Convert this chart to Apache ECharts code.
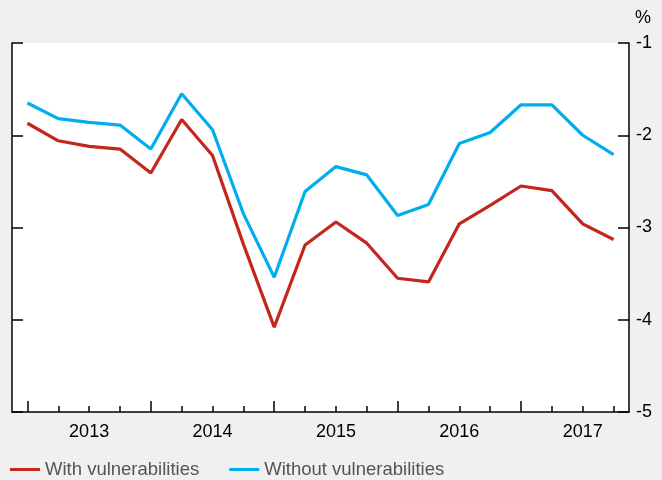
<!DOCTYPE html>
<html>
<head>
<meta charset="utf-8">
<script src="https://cdn.jsdelivr.net/npm/echarts@6/dist/echarts.min.js"></script>
<style>
  html, body { margin: 0; padding: 0; background: #f0f0f0; }
  #chart { width: 662px; height: 480px; }
</style>
</head>
<body>
<div id="chart"></div>
<script>
// quarterly points, 2013 Q1 .. 2017 Q4
const quarters = [
  '2013Q1', '2013Q2', '2013Q3', '2013Q4',
  '2014Q1', '2014Q2', '2014Q3', '2014Q4',
  '2015Q1', '2015Q2', '2015Q3', '2015Q4',
  '2016Q1', '2016Q2', '2016Q3', '2016Q4',
  '2017Q1', '2017Q2', '2017Q3', '2017Q4'
]
const withVuln = [
  -1.87, -2.06, -2.12, -2.15, -2.41, -1.83, -2.22, -3.18, -4.08, -3.19,
  -2.94, -3.17, -3.55, -3.59, -2.96, -2.76, -2.55, -2.60, -2.96, -3.13
]
const withoutVuln = [
  -1.65, -1.82, -1.86, -1.89, -2.15, -1.55, -1.94, -2.85, -3.54, -2.61,
  -2.34, -2.43, -2.87, -2.75, -2.09, -1.97, -1.67, -1.67, -2.00, -2.21
]
const yTicks = { min: -5, max: -1, step: 1 }

const font = "'Liberation Sans', Arial, Helvetica, sans-serif"
const red = '#c4261d'
const blue = '#00aeef'

const chart = echarts.init(document.getElementById('chart'))

const yAxisBase = {
  type: 'value',
  min: yTicks.min,
  max: yTicks.max,
  interval: yTicks.step,
  splitLine: { show: false },
  axisLine: { show: true, lineStyle: { color: '#000', width: 1.5 } },
  axisTick: { show: true, inside: true, length: 11, lineStyle: { color: '#000', width: 1.5 } }
}

chart.setOption({
  backgroundColor: '#f0f0f0',
  animation: false,
  textStyle: { fontFamily: font },
  grid: {
    left: 12, right: 33, top: 43, bottom: 68,
    show: true, backgroundColor: '#fff', borderWidth: 0
  },
  legend: {
    left: 10,
    top: 460,
    padding: 0,
    icon: 'rect',
    itemWidth: 30,
    itemHeight: 3,
    itemGap: 30,
    textStyle: { fontSize: 18.5, color: '#555', fontFamily: font },
    data: ['With vulnerabilities', 'Without vulnerabilities']
  },
  graphic: [{
    type: 'text',
    left: 635,
    top: 9,
    style: { text: '%', fontSize: 18, fill: '#000', fontFamily: font }
  }],
  xAxis: [
    {
      type: 'category',
      data: quarters,
      boundaryGap: true,
      axisLine: { show: true, lineStyle: { color: '#000', width: 1.5 } },
      axisTick: {
        show: true, inside: true, length: 6, alignWithLabel: true, interval: 0,
        lineStyle: { color: '#000', width: 1.5 }
      },
      axisLabel: {
        interval: (i) => i % 4 === 2,
        formatter: (v) => v.slice(0, 4),
        fontSize: 18,
        color: '#000',
        margin: 11
      },
      splitLine: { show: false }
    },
    {
      // taller ticks at year boundaries
      type: 'category',
      data: quarters,
      position: 'bottom',
      boundaryGap: true,
      axisLine: { show: false },
      axisTick: {
        show: true, inside: true, length: 11, alignWithLabel: true,
        interval: (i) => i % 4 === 0,
        lineStyle: { color: '#000', width: 1.5 }
      },
      axisLabel: { show: false },
      splitLine: { show: false }
    }
  ],
  yAxis: [
    Object.assign({}, yAxisBase, {
      position: 'right',
      axisLabel: { fontSize: 18, color: '#000', margin: 7 }
    }),
    Object.assign({}, yAxisBase, {
      position: 'left',
      axisLabel: { show: false }
    })
  ],
  series: [
    {
      name: 'With vulnerabilities',
      type: 'line',
      data: withVuln,
      symbol: 'none',
      color: red,
      lineStyle: { width: 3.2, color: red }
    },
    {
      name: 'Without vulnerabilities',
      type: 'line',
      data: withoutVuln,
      symbol: 'none',
      color: blue,
      lineStyle: { width: 3.2, color: blue }
    }
  ]
})
</script>
</body>
</html>
